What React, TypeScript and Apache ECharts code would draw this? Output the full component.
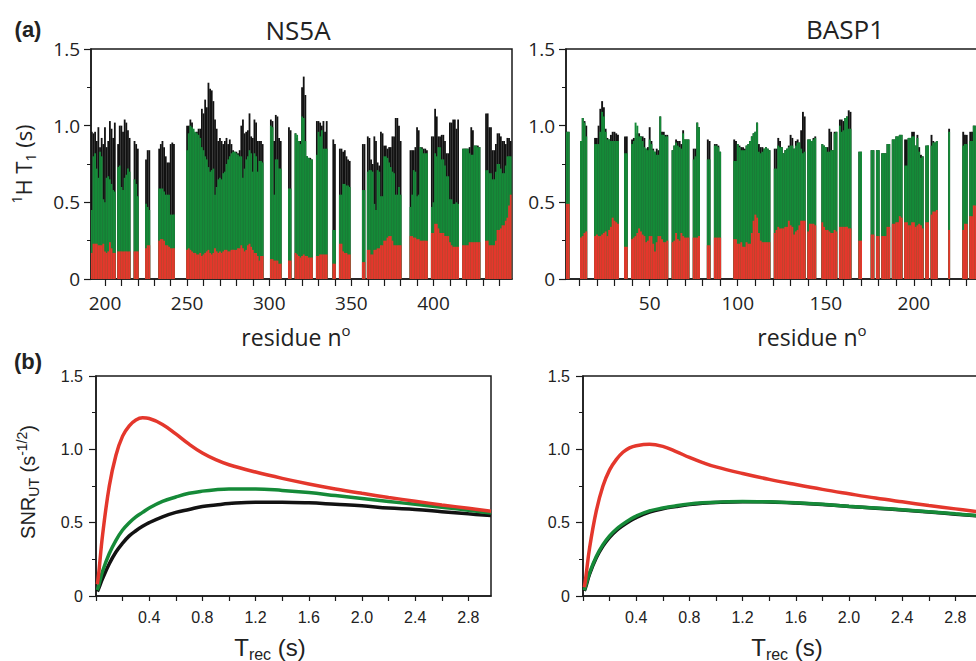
import React, { useEffect, useRef } from "react";
import * as echarts from "echarts";

// ---------------- DATA ----------------
// NS5A: residue ranges (consecutive residues present) and T1 values (s)
const ns5aRanges: number[][] = [
  [192, 206], [208, 215], [218, 220], [225, 227], [233, 242], [250, 296], [301, 307], [312, 313],
  [316, 326], [329, 335], [339, 340], [343, 349], [357, 358], [360, 380], [386, 396], [399, 415],
  [418, 428], [432, 447],
];
const ns5aBlack: number[] = [
  .96, .95, .96, .90, .99, .86, .92, .88, .99, .86, .90, 1.03, .98, .92, 1.02,
  .88, 1.00, 1.00, .96, 1.04, 1.02, .97, .92,
  .90, .88, .85,
  .78, .84, .84,
  .85, .88, .90, .86, .80, .76, .76, .88, .89, .88,
  1.00, 1.00, 1.04, 1.02, .96, .95, .96, .98, .98, 1.11, 1.08, 1.17, 1.12, 1.28, 1.24, 1.23, 1.16, 1.04, .98, .90, .92, .90, .88, .90, .92, .88, .91, .88,
  .84, .83, .83, .82, .84, 1.00, 1.04, .95, .96, .97, 1.08, .93, .92, 1.04, 1.02, .90, .90, .90, .88,
  1.04, 1.03, .90, 1.07, 1.06, .92, .90,
  .99, .97,
  .95, .92, .90, .90, 1.25, 1.32, 1.20, .80, .79, .79, .78,
  1.03, 1.03, 1.02, 1.00, 1.03, .96, 1.03,
  .91, .88,
  .85, .85, .83, .84, .80, .78, .77,
  .88, .88,
  .93, .92, .78, .75, .93, .90, .76, .74, .96, .95, .87, .87, .85, .86, .86, .93, .93, 1.05, 1.05, 1.00, .90,
  .84, .84, .84, .86, .99, .97, .86, .86, .85, .85, .84,
  .93, .93, 1.11, 1.06, .93, .93, .94, .94, .90, .82, .82, 1.02, 1.02, 1.04, 1.04, .98, 1.04,
  .85, .85, .85, .85, .86, .99, .97, .87, .87, .87, .86,
  1.08, 1.08, .99, .99, .84, .84, .88, .95, .95, .93, .90, .90, .88, .92, .92, .90,
];
const ns5aGreen: number[] = [
  .45, .80, .82, .72, .66, .83, .80, .52, .50, .66, .67, .65, .62, .58, .57,
  .73, .74, .60, .58, .66, .68, .72, .70,
  .65, .62, .54,
  .49, .47, .45,
  .59, .59, .59, .57, .55, .55, .55, .42, .42, .42,
  .84, .95, 1.00, .99, .98, .96, .95, .94, .92, .86, .84, .80, .78, .73, .70, .71, .72, .55, .60, .65, .66, .65, .69, .70, .75, .78, .80, .82,
  .83, .83, .82, .81, .80, .80, .66, .72, .78, .80, .84, .82, .70, .82, .80, .70, .77, .77, .76,
  1.00, .99, .55, .78, .78, .72, .72,
  .59, .59,
  .95, .94, .90, .88, 1.06, 1.05, .90, .80, .79, .78, .78,
  .81, .96, .93, .97, .85, .85, .85,
  .32, .32,
  .55, .55, .62, .62, .61, .61, .60,
  .58, .58,
  .70, .71, .71, .70, .49, .45, .71, .70, .54, .54, .80, .80, .79, .76, .73, .70, .69, .55, .55, .60, .55,
  .47, .55, .71, .70, .54, .55, .86, .85, .82, .82, .82,
  .47, .50, .82, .80, .86, .86, .78, .78, .74, .67, .67, .52, .52, .49, .49, .50, .49,
  .85, .85, .85, .85, .82, .81, .81, .87, .87, .86, .86,
  .71, .71, .69, .69, .65, .65, .70, .75, .75, .72, .69, .69, .74, .80, .80, .80,
];
const ns5aRed: number[] = [
  .17, .23, .23, .23, .22, .22, .22, .23, .18, .17, .18, .24, .20, .17, .17,
  .18, .18, .18, .18, .18, .18, .18, .18,
  .18, .18, .18,
  .20, .22, .22,
  .25, .26, .26, .25, .22, .22, .21, .20, .20, .20,
  .19, .20, .19, .18, .17, .17, .16, .16, .17, .15, .16, .17, .18, .19, .17, .16, .17, .20, .18, .17, .18, .17, .18, .19, .19, .18, .18, .19,
  .19, .19, .19, .20, .20, .22, .20, .18, .19, .22, .23, .21, .19, .17, .17, .15, .12, .15, .15,
  .13, .13, .12, .12, .12, .10, .10,
  .12, .12,
  .17, .16, .15, .14, .15, .16, .15, .15, .14, .14, .14,
  .15, .15, .16, .16, .16, .16, .16,
  .10, .10,
  .23, .23, .18, .17, .17, .16, .16,
  .11, .11,
  .19, .19, .16, .16, .19, .19, .20, .20, .22, .22, .25, .25, .27, .28, .28, .25, .22, .22, .22, .22, .22,
  .28, .28, .27, .27, .26, .26, .25, .25, .25, .25, .25,
  .30, .30, .36, .36, .33, .30, .30, .30, .28, .28, .28, .24, .22, .21, .21, .21, .21,
  .22, .22, .22, .22, .24, .24, .24, .24, .24, .24, .24,
  .25, .25, .22, .22, .22, .22, .25, .32, .32, .33, .35, .35, .38, .40, .48, .55,
];

// BASP1
const baspRanges: number[][] = [
  [3, 4], [11, 14], [19, 32], [36, 37], [40, 60], [63, 72], [75, 78], [83, 84], [87, 90],
  [98, 118], [121, 138], [140, 144], [148, 156], [158, 164], [169, 170], [176, 177], [179, 180],
  [182, 186], [188, 193], [195, 205], [207, 208], [210, 213], [220, 220], [228, 230], [232, 235],
];
const baspBlack: number[] = [
  .96, .96,
  .90, 1.05, 1.03, 1.00,
  .92, .92, 1.00, 1.11, 1.16, 1.12, .98, .92, .91, .94, .96, .96, .95, .94,
  .93, .93,
  .91, .92, .92, .95, .95, .93, .93, .92, .85, .86, .99, .90, .85, .83, .85, .84, 1.06, .96, .96, .94, .94,
  .84, .87, .91, .90, .90, .88, .97, .91, .91, .91,
  .85, .85, 1.02, .99,
  .91, .90,
  .88, .88, .87, .83,
  .91, .90, .88, .87, .86, .86, .85, .87, .88, .90, .93, .95, .96, 1.02, .88, .86, .86, .85, .86, .85, .84,
  .85, .85, .92, .90, .86, .82, .84, .85, .87, .94, .92, .85, .90, .91, .89, .97, 1.09, 1.06,
  .91, .91, .90, .92, .93,
  .88, .87, .86, .86, .98, .96, .84, .96, .96,
  1.04, 1.04, 1.03, 1.05, 1.06, 1.10, 1.09,
  .83, .83,
  .84, .84,
  .84, .84,
  .82, .82, .82, .88, .88,
  .91, .91, .93, .93, .94, .94,
  .91, .91, .92, .92, .96, .96, .87, .94, .86, .81, .80,
  .87, .87,
  .94, .90, .89, .90,
  .98,
  .96, .94, .94,
  .96, .96, 1.00, 1.00,
];
const baspGreen: number[] = [
  .96, .96,
  .90, 1.05, 1.02, .93,
  .88, .88, .88, .96, 1.09, 1.06, .96, .91, .91, .90, .90, .90, .90, .90,
  .82, .82,
  .88, .90, 1.02, 1.00, .93, .93, .90, .86, .85, .84, .91, .88, .84, .83, .81, .81, 1.06, .94, .94, .93, .93,
  .84, .87, .89, .87, .86, .85, .95, .91, .91, .91,
  .78, .80, 1.02, .99,
  .78, .78,
  .87, .87, .86, .83,
  .77, .77, .88, .86, .84, .84, .84, .87, .88, .90, .93, .95, .96, 1.02, .83, .82, .83, .85, .86, .85, .84,
  .72, .72, .87, .86, .86, .82, .84, .85, .86, .87, .87, .85, .87, .89, .89, .85, .82, .83,
  .91, .91, .90, .91, .92,
  .88, .87, .86, .83, .83, .84, .84, .95, .96,
  1.00, .96, .97, 1.05, 1.06, .98, .98,
  .83, .83,
  .84, .84,
  .84, .84,
  .82, .82, .82, .88, .88,
  .91, .91, .93, .93, .94, .94,
  .74, .74, .92, .92, .93, .93, .87, .92, .83, .79, .80,
  .87, .87,
  .87, .89, .89, .90,
  .96,
  .87, .88, .88,
  .90, .90, 1.00, 1.00,
];
const baspRed: number[] = [
  .49, .49,
  .27, .28, .30, .31,
  .28, .29, .28, .28, .29, .30, .31, .28, .32, .34, .40, .38, .37, .36,
  .21, .21,
  .26, .27, .28, .30, .33, .31, .29, .28, .24, .25, .28, .28, .23, .18, .24, .28, .28, .26, .24, .24, .25,
  .24, .25, .30, .26, .25, .30, .28, .27, .27, .27,
  .27, .27, .27, .28,
  .22, .22,
  .27, .27, .27, .27,
  .26, .26, .23, .23, .24, .21, .21, .24, .23, .23, .30, .38, .42, .40, .30, .25, .24, .24, .24, .24, .24,
  .30, .32, .34, .33, .33, .33, .34, .34, .38, .35, .34, .29, .31, .32, .35, .38, .38, .38,
  .31, .36, .36, .36, .35,
  .37, .34, .32, .32, .31, .30, .30, .32, .31,
  .34, .34, .34, .34, .34, .33, .33,
  .25, .25,
  .29, .29,
  .28, .28,
  .28, .28, .28, .34, .34,
  .36, .36, .37, .37, .41, .40,
  .37, .37, .35, .35, .37, .37, .34, .35, .36, .35, .33,
  .37, .37,
  .42, .44, .44, .45,
  .32,
  .32, .36, .36,
  .41, .41, .48, .48,
];

// SNR curves vs recovery delay Trec (s)
const trec: number[] = [0.01, 0.02, 0.05, 0.1, 0.15, 0.2, 0.25, 0.3, 0.35, 0.4, 0.5, 0.6, 0.7, 0.8, 0.9, 1.0, 1.2, 1.4, 1.6, 1.8, 2.0, 2.2, 2.4, 2.6, 2.8, 2.97];
const ns5aSnrRed: number[] = [0.08, 0.15, 0.42, 0.75, 0.96, 1.09, 1.16, 1.2, 1.215, 1.21, 1.17, 1.105, 1.035, 0.975, 0.93, 0.895, 0.845, 0.802, 0.764, 0.73, 0.7, 0.672, 0.646, 0.621, 0.598, 0.578];
const ns5aSnrGreen: number[] = [0.04, 0.07, 0.17, 0.29, 0.38, 0.45, 0.5, 0.54, 0.57, 0.6, 0.645, 0.675, 0.7, 0.715, 0.725, 0.73, 0.73, 0.72, 0.705, 0.685, 0.665, 0.645, 0.625, 0.605, 0.585, 0.565];
const ns5aSnrBlack: number[] = [0.03, 0.05, 0.12, 0.22, 0.3, 0.36, 0.41, 0.445, 0.475, 0.5, 0.54, 0.57, 0.59, 0.61, 0.62, 0.63, 0.64, 0.64, 0.635, 0.625, 0.615, 0.6, 0.59, 0.575, 0.56, 0.548];
const baspSnrRed: number[] = [0.06, 0.12, 0.33, 0.58, 0.75, 0.86, 0.93, 0.98, 1.01, 1.025, 1.035, 1.02, 0.985, 0.945, 0.91, 0.88, 0.835, 0.795, 0.76, 0.727, 0.697, 0.668, 0.642, 0.617, 0.594, 0.575];
const baspSnrGreen: number[] = [0.04, 0.07, 0.16, 0.27, 0.35, 0.41, 0.455, 0.49, 0.52, 0.545, 0.58, 0.6, 0.615, 0.627, 0.635, 0.64, 0.645, 0.642, 0.635, 0.625, 0.612, 0.6, 0.588, 0.575, 0.56, 0.548];
const baspSnrBlack: number[] = [0.035, 0.06, 0.15, 0.26, 0.34, 0.4, 0.445, 0.48, 0.51, 0.535, 0.572, 0.595, 0.61, 0.623, 0.632, 0.638, 0.643, 0.641, 0.634, 0.624, 0.611, 0.599, 0.586, 0.573, 0.558, 0.546];

// Tick labels / tick positions
const ns5aLabelTicks: number[] = [200, 250, 300, 350, 400];
const ns5aMinorTicks: number[] = [200, 210, 220, 230, 240, 250, 260, 270, 280, 290, 300, 310, 320, 330, 340, 350, 360, 370, 380, 390, 400, 410, 420, 430, 440];
const baspLabelTicks: number[] = [50, 100, 150, 200];
const baspMinorTicks: number[] = [10, 20, 30, 40, 50, 60, 70, 80, 90, 100, 110, 120, 130, 140, 150, 160, 170, 180, 190, 200, 210, 220, 230, 240];
const trecLabelTicks: number[] = [0.4, 0.8, 1.2, 1.6, 2.0, 2.4, 2.8];
const trecMinorTicks: number[] = [0, 0.2, 0.4, 0.6, 0.8, 1.0, 1.2, 1.4, 1.6, 1.8, 2.0, 2.2, 2.4, 2.6, 2.8];

// ---------------- STYLE ----------------
const RED = "#e4372c";
const GREEN = "#158a38";
const BLACK = "#121212";
const AXIS = "#1a1a1a";
const TEXT = "#222222";
const MYRIAD = '"Open Sans", "Noto Sans", sans-serif';
const HELV = '"Liberation Sans", Arial, sans-serif';

function expand(ranges: number[][], vals: number[]): [number, number][] {
  const out: [number, number][] = [];
  let k = 0;
  for (const [a, b] of ranges) {
    for (let r = a; r <= b; r++) {
      if (k < vals.length) out.push([r, vals[k]]);
      k++;
    }
  }
  return out;
}

function zip(xs: number[], ys: number[]): [number, number][] {
  return xs.map((x, i) => [x, ys[i]]);
}

export default function App() {
  const ref = useRef<HTMLDivElement>(null);

  useEffect(() => {
    if (!ref.current) return;
    const chart = echarts.init(ref.current, null, { renderer: "svg" });

    const yAxisOf = (i: number, font: string, size: number, margin: number) => ({
      type: "value",
      gridIndex: i,
      min: 0,
      max: 1.5,
      interval: 0.5,
      axisLine: { show: true, lineStyle: { color: AXIS, width: 1.5 } },
      axisTick: { show: true, length: 7, lineStyle: { color: AXIS, width: 1.2 } },
      minorTick: { show: true, splitNumber: 2, length: 4, lineStyle: { color: AXIS, width: 1 } },
      splitLine: { show: false },
      minorSplitLine: { show: false },
      axisLabel: {
        margin,
        color: TEXT,
        fontFamily: font,
        fontSize: size,
        formatter: (v: number) => (v === 0 ? "0" : v.toFixed(1)),
      },
    });
    const resX = (i: number, min: number, max: number, labels: number[], ticks: number[]) => ({
      type: "value",
      gridIndex: i,
      min,
      max,
      axisLine: { show: true, onZero: false, lineStyle: { color: AXIS, width: 1.5 } },
      axisTick: { show: true, length: 7, customValues: ticks, lineStyle: { color: AXIS, width: 1.2 } },
      splitLine: { show: false },
      axisLabel: {
        margin: 14,
        color: TEXT,
        fontFamily: MYRIAD,
        fontSize: 19,
        customValues: labels,
      },
    });
    const trecX = (i: number) => ({
      type: "value",
      gridIndex: i,
      min: 0,
      max: 2.97,
      axisLine: { show: true, onZero: false, lineStyle: { color: AXIS, width: 1.5 } },
      axisTick: { show: true, length: 5, customValues: trecMinorTicks, lineStyle: { color: AXIS, width: 1.2 } },
      splitLine: { show: false },
      axisLabel: {
        margin: 13,
        color: TEXT,
        fontFamily: HELV,
        fontSize: 16,
        customValues: trecLabelTicks,
        formatter: (v: number) => v.toFixed(1),
      },
    });

    const bar = (data: [number, number][], color: string, idx: number, w: number) => ({
      type: "bar",
      xAxisIndex: idx,
      yAxisIndex: idx,
      data,
      barWidth: w,
      barGap: "-100%",
      itemStyle: { color },
      silent: true,
    });
    const line = (data: [number, number][], color: string, idx: number) => ({
      type: "line",
      xAxisIndex: idx,
      yAxisIndex: idx,
      data,
      smooth: 0.4,
      showSymbol: false,
      symbol: "none",
      lineStyle: { color, width: 3.5 },
      itemStyle: { color },
      silent: true,
    });

    const gridBox = { show: true, borderColor: AXIS, borderWidth: 1.5, backgroundColor: "transparent" };

    const richY1 = {
      main: { fontFamily: MYRIAD, fontSize: 22, lineHeight: 28, color: TEXT },
      sup: { fontFamily: MYRIAD, fontSize: 14, lineHeight: 14, verticalAlign: "top", color: TEXT },
      sub: { fontFamily: MYRIAD, fontSize: 14, lineHeight: 14, verticalAlign: "bottom", color: TEXT },
    };
    const richSnr = {
      main: { fontFamily: HELV, fontSize: 20, lineHeight: 26, color: TEXT },
      sup: { fontFamily: HELV, fontSize: 14, lineHeight: 14, verticalAlign: "top", color: TEXT },
      sub: { fontFamily: HELV, fontSize: 14, lineHeight: 12, verticalAlign: "bottom", color: TEXT },
    };
    const richTrec = {
      main: { fontFamily: HELV, fontSize: 24, lineHeight: 30, color: TEXT },
      sub: { fontFamily: HELV, fontSize: 16, lineHeight: 14, verticalAlign: "bottom", color: TEXT },
    };
    const richRes = {
      main: { fontFamily: MYRIAD, fontSize: 23, lineHeight: 30, color: TEXT },
      sup: { fontFamily: MYRIAD, fontSize: 15, lineHeight: 18, verticalAlign: "top", color: TEXT },
    };

    const txt = (x: number, y: number, text: string, font: string) => ({
      type: "text",
      x,
      y,
      silent: true,
      style: { text, font, fill: TEXT, textAlign: "center", textVerticalAlign: "middle" },
    });
    const richTxt = (x: number, y: number, text: string, rich: any, rotation = 0) => ({
      type: "text",
      x,
      y,
      rotation,
      silent: true,
      style: { text, rich, fill: TEXT, textAlign: "center", textVerticalAlign: "middle" },
    });

    chart.setOption({
      animation: false,
      backgroundColor: "#ffffff",
      grid: [
        { left: 91, top: 49, width: 421, height: 230, ...gridBox },
        { left: 566, top: 49, width: 421, height: 230, ...gridBox },
        { left: 96, top: 376, width: 395, height: 220, ...gridBox },
        { left: 583, top: 376, width: 395, height: 220, ...gridBox },
      ],
      xAxis: [
        resX(0, 191.5, 447.8, ns5aLabelTicks, ns5aMinorTicks),
        resX(1, 2.5, 241.5, baspLabelTicks, baspMinorTicks),
        trecX(2),
        trecX(3),
      ],
      yAxis: [
        yAxisOf(0, MYRIAD, 19, 11),
        yAxisOf(1, MYRIAD, 19, 11),
        yAxisOf(2, HELV, 16, 13),
        yAxisOf(3, HELV, 16, 13),
      ],
      series: [
        bar(expand(ns5aRanges, ns5aBlack), BLACK, 0, 1.8),
        bar(expand(ns5aRanges, ns5aGreen), GREEN, 0, 1.8),
        bar(expand(ns5aRanges, ns5aRed), RED, 0, 1.8),
        bar(expand(baspRanges, baspBlack), BLACK, 1, 1.9),
        bar(expand(baspRanges, baspGreen), GREEN, 1, 1.9),
        bar(expand(baspRanges, baspRed), RED, 1, 1.9),
        line(zip(trec, ns5aSnrBlack), BLACK, 2),
        line(zip(trec, ns5aSnrGreen), GREEN, 2),
        line(zip(trec, ns5aSnrRed), RED, 2),
        line(zip(trec, baspSnrBlack), BLACK, 3),
        line(zip(trec, baspSnrGreen), GREEN, 3),
        line(zip(trec, baspSnrRed), RED, 3),
      ],
      graphic: [
        txt(28, 29, "(a)", `bold 22px ${HELV}`),
        txt(28, 361, "(b)", `bold 22px ${HELV}`),
        txt(298, 30, "NS5A", `26px ${MYRIAD}`),
        txt(845, 29, "BASP1", `26px ${MYRIAD}`),
        richTxt(296, 337, "{main|residue n}{sup|o}", richRes),
        richTxt(812, 337, "{main|residue n}{sup|o}", richRes),
        richTxt(23, 164, "{sup|1}{main|H T}{sub|1}{main| (s)}", richY1, Math.PI / 2),
        richTxt(28, 482, "{main|SNR}{sub|UT}{main| (s}{sup|-1/2}{main|)}", richSnr, Math.PI / 2),
        richTxt(270, 647, "{main|T}{sub|rec}{main| (s)}", richTrec),
        richTxt(787, 647, "{main|T}{sub|rec}{main| (s)}", richTrec),
      ],
    });

    return () => chart.dispose();
  }, []);

  return (
    <div
      style={{
        position: "absolute",
        left: 0,
        top: 0,
        width: 976,
        height: 661,
        overflow: "hidden",
        background: "#ffffff",
      }}
    >
      <div ref={ref} style={{ width: 1000, height: 661 }} />
    </div>
  );
}
